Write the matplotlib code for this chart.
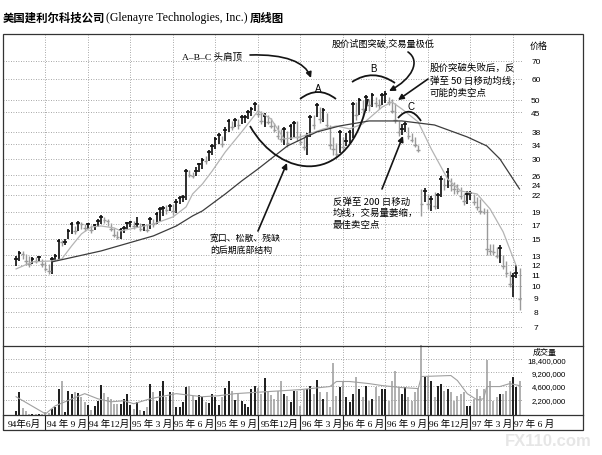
import numpy as np
import matplotlib
matplotlib.use('Agg')
import matplotlib.pyplot as plt
import matplotlib.transforms as mtransforms
from matplotlib.path import Path
from matplotlib.patches import PathPatch, FancyArrowPatch, Rectangle
from matplotlib.lines import Line2D
from matplotlib.ticker import NullLocator

plt.rcParams['font.family'] = ['Noto Sans CJK SC', 'DejaVu Sans']

# ---------------- data (weekly bars) ----------------
first_week = 4  # weeks after 1 June 1994

highs = [12.95, 13.52, 13.52, 13.18, 12.95, 12.84, 12.84, 12.95, 12.62, 12.30,
         12.09, 12.84, 13.18, 15.00, 14.87, 15.00, 16.36, 17.37, 16.78, 17.52,
         17.37, 17.07, 17.22, 16.93, 17.07, 17.83, 18.47, 18.15, 17.83, 17.22,
         16.49, 16.08, 16.49, 16.78, 17.37, 17.52, 17.52, 18.15, 17.22, 17.07,
         17.07, 18.15, 17.83, 18.95, 19.79, 19.96, 20.14, 20.31, 20.31, 21.21,
         21.76, 21.95, 27.49, 27.25, 26.78, 27.97, 28.96, 30.24, 30.77, 32.41,
         34.13, 36.27, 37.55, 36.58, 39.55, 42.38, 41.65, 42.75, 42.38, 43.87,
         43.87, 45.81, 47.00, 49.08, 48.23, 45.42, 44.64, 43.87, 42.75, 40.94,
         40.22, 38.87, 39.55, 38.20, 40.58, 41.65, 41.65, 37.55, 36.58, 37.55,
         43.87, 43.87, 48.65, 47.00, 46.61, 44.64, 40.22, 36.27, 34.43, 38.53,
         36.27, 37.55, 38.53, 49.08, 49.08, 50.81, 49.94, 52.15, 50.37, 53.06,
         51.25, 50.37, 53.06, 53.99, 51.25, 50.37, 48.65, 41.65, 40.58, 41.29,
         39.55, 37.55, 36.27, 33.84, 23.12, 23.32, 22.14, 21.76, 22.52, 22.33,
         25.87, 25.43, 27.73, 25.43, 24.56, 24.14, 23.52, 22.33, 22.72, 22.72,
         22.14, 21.57, 21.21, 19.62, 19.45, 14.37, 14.37, 14.00, 14.24, 13.06,
         12.40, 11.37, 11.18, 11.98, 11.67]

lows = [11.88, 12.40, 12.62, 11.98, 11.78, 12.09, 12.19, 12.30, 11.78, 11.37,
        11.08, 11.08, 12.40, 12.62, 14.12, 14.24, 15.00, 15.67, 15.67, 16.08,
        16.36, 16.08, 16.36, 15.80, 16.22, 16.64, 17.07, 17.22, 16.78, 16.08,
        15.27, 15.00, 15.00, 15.80, 16.36, 16.64, 16.36, 16.64, 16.08, 16.08,
        15.94, 16.36, 16.64, 17.07, 17.52, 18.31, 18.63, 19.12, 18.47, 18.79,
        20.31, 20.67, 21.03, 25.65, 25.43, 25.87, 26.78, 27.49, 28.71, 29.47,
        31.04, 32.69, 34.13, 33.26, 35.03, 37.87, 38.53, 39.55, 38.87, 40.58,
        40.94, 42.38, 43.49, 45.42, 43.12, 40.58, 39.55, 40.58, 39.21, 37.87,
        35.64, 34.73, 33.84, 33.26, 35.33, 36.27, 35.03, 33.84, 32.41, 31.04,
        36.27, 38.87, 43.12, 40.94, 41.29, 39.55, 32.69, 31.04, 30.24, 31.57,
        32.41, 33.55, 34.43, 35.95, 42.02, 43.87, 43.12, 45.42, 45.42, 47.00,
        47.00, 46.21, 47.82, 48.65, 47.82, 44.64, 40.94, 36.58, 36.90, 37.87,
        35.64, 34.73, 33.26, 31.85, 18.31, 20.67, 19.45, 19.12, 19.45, 19.45,
        21.57, 22.92, 23.32, 22.72, 22.14, 22.14, 21.21, 20.14, 20.31, 21.03,
        20.14, 19.28, 18.63, 18.63, 13.06, 13.06, 13.06, 12.73, 12.19, 11.57,
        10.80, 9.90, 9.07, 10.70, 8.11]

closes = [12.62, 13.29, 13.18, 12.40, 12.09, 12.62, 12.40, 12.84, 12.09, 11.57,
          11.37, 12.62, 12.95, 14.74, 14.61, 14.61, 16.08, 17.07, 16.08, 17.22,
          17.07, 16.49, 17.07, 16.22, 16.93, 17.52, 18.15, 17.68, 17.52, 16.36,
          15.53, 15.27, 16.22, 16.49, 17.22, 17.37, 16.78, 17.07, 16.36, 16.93,
          16.22, 17.83, 17.07, 18.63, 19.45, 19.62, 19.28, 19.96, 19.12, 20.67,
          21.40, 21.57, 27.02, 26.10, 25.87, 27.02, 28.71, 29.72, 29.47, 31.85,
          33.55, 35.64, 36.90, 34.13, 38.53, 41.65, 39.55, 42.02, 40.22, 43.12,
          43.12, 45.02, 46.21, 48.23, 44.25, 41.65, 43.49, 41.29, 39.89, 38.53,
          36.58, 35.64, 38.87, 34.43, 39.89, 40.94, 36.27, 34.73, 33.26, 36.58,
          43.12, 40.22, 47.82, 42.38, 45.81, 40.22, 33.84, 32.69, 31.30, 37.87,
          33.26, 35.03, 37.87, 48.23, 43.87, 49.94, 46.21, 51.25, 47.82, 52.15,
          48.65, 47.82, 52.15, 52.60, 49.08, 45.42, 42.02, 37.87, 38.87, 40.58,
          36.58, 35.33, 33.84, 32.41, 20.31, 22.72, 20.31, 21.21, 19.96, 21.95,
          25.21, 23.93, 26.78, 23.93, 23.12, 22.72, 21.76, 20.85, 22.14, 22.33,
          20.67, 19.79, 19.12, 18.95, 13.76, 13.52, 13.41, 12.95, 13.88, 11.88,
          11.18, 10.16, 10.89, 11.18, 8.92]

# weekly volume, millions of shares
volume = [1.22, 3.35, 1.43, 1.22, 1.04, 1.03, 1.02, 1.03, 1.05, 1.15,
          1.08, 1.35, 1.5, 3.93, 5.7, 1.15, 3.53, 3.01, 3.35, 3.17,
          2.56, 1.96, 1.67, 1.3, 1.59, 2.07, 4.86, 3.17, 2.56, 2.3,
          1.77, 1.77, 1.77, 2.3, 3.01, 1.67, 1.35, 1.96, 1.28, 1.22,
          1.51, 5.1, 3.35, 2.07, 3.53, 6.0, 2.56, 3.35, 3.35, 1.51,
          1.51, 1.96, 4.37, 4.6, 2.70, 2.18, 2.85, 2.56, 1.96, 1.86,
          3.01, 2.56, 1.67, 2.56, 4.14, 5.7, 3.53, 2.18, 3.01, 2.07,
          1.77, 1.51, 3.93, 4.6, 4.14, 3.01, 6.7, 3.35, 2.85, 2.3,
          3.53, 6.0, 3.01, 2.70, 1.96, 3.53, 3.53, 1.59, 3.6, 3.93,
          4.6, 3.01, 6.1, 3.35, 2.3, 3.35, 1.51, 14.9, 2.70, 4.37,
          6.0, 2.56, 1.96, 3.01, 7.4, 3.93, 2.56, 4.6, 2.07, 2.3,
          4.37, 2.70, 3.93, 3.93, 2.07, 6.0, 9.7, 4.37, 3.0, 4.37,
          2.56, 2.07, 3.35, 4.14, 38.0, 7.4, 7.1, 5.7, 2.56, 4.6,
          5.1, 3.53, 3.93, 3.35, 2.07, 2.70, 3.01, 3.35, 1.59, 1.59,
          2.3, 3.93, 2.70, 3.93, 17.4, 6.0, 2.07, 2.56, 3.01, 3.01,
          3.53, 6.0, 7.4, 4.37, 6.0]

# 50-day (light) and 200-day (dark) moving averages: bar index, value
ma50_bar = [0, 5, 11, 14, 17, 20, 23, 26, 30, 32, 35, 42, 48, 52, 54, 57, 60, 64, 69,
            74, 78, 82, 87, 94, 98, 102, 106, 112, 115, 118, 123, 127, 132, 136, 141,
            145, 149, 153]
ma50_val = [11.57, 12.30, 12.40, 12.62, 14.12, 15.67, 16.64, 16.78, 16.50, 16.08,
            16.36, 17.07, 18.15, 19.79, 22.14, 24.14, 27.02, 31.85, 37.87, 45.42,
            42.38, 35.64, 36.27, 38.87, 39.89, 38.87, 40.58, 47.00, 49.08, 46.21,
            41.29, 32.69, 25.21, 22.72, 22.14, 19.45, 15.94, 11.88]
ma200_bar = [11, 26, 42, 49, 54, 57, 64, 69, 74, 83, 92, 99, 108, 118, 128, 138, 144,
             148, 154]
ma200_val = [12.30, 13.52, 15.40, 16.78, 18.31, 19.12, 22.14, 24.77, 27.49, 33.55,
             37.87, 39.89, 41.65, 41.65, 40.22, 36.27, 33.55, 29.98, 23.12]
vol_ma_bar = [0, 9, 12, 21, 25, 29, 33, 36, 41, 49, 57, 62, 67, 77, 87, 96, 98, 102,
              108, 112, 118, 123, 124, 133, 135, 138, 141, 143, 144, 148, 151, 154]
vol_ma_val = [2.56, 1.04, 1.59, 3.01, 2.3, 1.96, 2.07, 1.77, 2.3, 3.01, 2.56, 2.70,
              3.01, 3.35, 3.72, 4.37, 5.7, 5.7, 5.1, 4.6, 4.14, 3.93, 7.4, 7.8, 6.0,
              3.01, 2.18, 2.3, 4.37, 4.37, 5.1, 4.6]

price_ticks = [7, 8, 9, 10, 11, 12, 13, 15, 17, 19, 22, 24, 26, 30, 34, 38, 45, 50, 60, 70]
vol_ticks = [2.2, 4.6, 9.2, 18.4]
month_labels = ['94年6月', '94 年 9 月', '94 年12月', '95 年 3 月', '95 年 6 月', '95 年 9 月',
                '95年12月', '96 年 3 月', '96 年 6 月', '96 年 9 月', '96 年12月',
                '97 年 3 月', '97 年 6 月']

# ---------------- figure ----------------
W, H = 602, 456
fig = plt.figure(figsize=(W / 100, H / 100), dpi=100)
px = mtransforms.Affine2D().scale(1 / W, -1 / H).translate(0, 1) + fig.transFigure


def fbox(x0, y0, x1, y1):
    return [x0 / W, 1 - y1 / H, (x1 - x0) / W, (y1 - y0) / H]


BLACK = '#141414'
GRAY = '#9a9a9a'
SERIF = ['Liberation Serif', 'Noto Sans CJK SC']
SANS = ['Liberation Sans', 'Noto Sans CJK SC']

x = np.arange(len(closes)) + first_week
prev = [closes[0]] + closes[:-1]
up = [c >= p for c, p in zip(closes, prev)]
cols = [BLACK if u else GRAY for u in up]
widths = [1.25 if u else 1.0 for u in up]
quarters = np.arange(len(month_labels)) * 13
xlim = (0.91, 158.76)

# price panel
ax = fig.add_axes(fbox(3, 35, 522, 346))
ax.set_yscale('log')
ax.set_ylim(5.99, 88.4)
ax.set_xlim(*xlim)
ax.vlines(x, lows, highs, colors=cols, linewidths=widths)
ax.hlines(closes, x - 0.55, x + 0.55, colors=cols, linewidths=widths)
ax.plot(np.array(ma50_bar) + first_week, ma50_val, color='#b4b4b4', lw=0.9)
ax.plot(np.array(ma200_bar) + first_week, ma200_val, color='#3c3c3c', lw=0.9)
ax.set_yticks(price_ticks, labels=[str(t) for t in price_ticks])
ax.yaxis.set_minor_locator(NullLocator())
ax.yaxis.tick_right()
ax.tick_params(axis='y', length=0, pad=10, labelsize=6)
for lab in ax.get_yticklabels():
    lab.set_horizontalalignment('center')
    lab.set_family(SANS)
ax.set_xticks(quarters)
ax.tick_params(axis='x', length=0, labelbottom=False)
ax.grid(True, ls=(0, (1, 2)), color='#8a8a8a', lw=0.6)
for s in ax.spines.values():
    s.set_visible(False)

# volume panel
axv = fig.add_axes(fbox(3, 346, 522, 416))
axv.set_yscale('log')
axv.set_ylim(0.98, 38.8)
axv.set_xlim(*xlim)
axv.vlines(x, 0.98, volume, colors=cols, linewidths=[w + 0.1 for w in widths])
axv.plot(np.array(vol_ma_bar) + first_week, vol_ma_val, color='#a0a0a0', lw=0.8)
axv.set_yticks(vol_ticks, labels=[f'{int(v * 1e6):,}' for v in vol_ticks])
axv.yaxis.set_minor_locator(NullLocator())
axv.yaxis.tick_right()
axv.tick_params(axis='y', length=0, pad=31.5, labelsize=5.6)
for lab in axv.get_yticklabels():
    lab.set_horizontalalignment('right')
    lab.set_family(SANS)
axv.set_xticks(quarters)
axv.tick_params(axis='x', direction='out', length=10.8, width=0.8, color='#222',
                labelbottom=False)
axv.grid(True, ls=(0, (1, 2)), color='#8a8a8a', lw=0.6)
for s in axv.spines.values():
    s.set_visible(False)
for q, lab in zip(quarters, month_labels):
    axv.text(q + 6.5, -8 / 70, lab, transform=axv.get_xaxis_transform(),
             ha='center', va='center', fontsize=6.8, family=SERIF)

# frame and dividers
fig.add_artist(Rectangle((3, 35), 580, 396, transform=px, fill=False, lw=0.9, ec='#333'))
for yy in (346.5, 416):
    fig.add_artist(Line2D([3, 583], [yy, yy], transform=px, lw=0.9, color='#333'))

fig.text(539 / W, 1 - 46 / H, '价格', ha='center', va='center', fontsize=6.5)
fig.text(545 / W, 1 - 352 / H, '成交量', ha='center', va='center', fontsize=5.8)

# title
fig.text(3 / W, 1 - 18 / H, '美国建利尔科技公司', ha='left', va='center',
         fontsize=8.2, fontweight='bold')
fig.text(106 / W, 1 - 18 / H, '(Glenayre Technologies, Inc.)', ha='left', va='center',
         fontsize=8.6, family=SERIF)
fig.text(250 / W, 1 - 18 / H, '周线图', ha='left', va='center', fontsize=8.2,
         fontweight='bold')

# annotations (pixel positions)
def curve(pts, codes):
    fig.add_artist(PathPatch(Path(pts, codes), transform=px, fill=False, lw=1.3, ec=BLACK))


Q = [Path.MOVETO, Path.CURVE3, Path.CURVE3]
C = [Path.MOVETO, Path.CURVE4, Path.CURVE4, Path.CURVE4]
curve([(300, 100), (318, 86), (336, 100)], Q)
curve([(352, 83), (373, 69), (395, 84)], Q)
curve([(398, 119), (410, 105), (421, 122)], Q)
curve([(250, 127), (280, 180), (350, 190), (368, 100)], C)


def arrow(pts, codes=None):
    if codes is None:
        codes = [Path.MOVETO, Path.LINETO]
    fig.add_artist(FancyArrowPatch(path=Path(pts, codes), transform=px,
                                   arrowstyle='-|>', mutation_scale=8, lw=1.2,
                                   color=BLACK, shrinkA=0, shrinkB=0))


arrow([(250, 56), (285, 55), (305, 63), (311, 79)], C)
arrow([(408, 53), (421, 62), (412, 80), (389, 92)], C)
arrow([(428, 80), (398, 101)])
arrow([(382, 190), (403, 137)])
arrow([(258, 232), (287, 164)])

fig.text(318 / W, 1 - 89 / H, 'A', ha='center', va='center', fontsize=7, family=SANS)
fig.text(373 / W, 1 - 69 / H, 'B', ha='center', va='center', fontsize=7, family=SANS)
fig.text(411 / W, 1 - 107 / H, 'C', ha='center', va='center', fontsize=7, family=SANS)

fig.text(182 / W, 1 - 57 / H, 'A–B–C 头肩顶', ha='left', va='center', fontsize=6.8,
         family=SERIF)
fig.text(332 / W, 1 - 43 / H, '股价试图突破,交易量极低', ha='left', va='center',
         fontsize=6.6)
fig.text(430 / W, 1 - 63 / H, '股价突破失败后，反\n弹至 50 日移动均线，\n可能的卖空点',
         ha='left', va='top', fontsize=6.8, linespacing=1.45)
fig.text(333 / W, 1 - 197 / H, '反弹至 200 日移动\n均线，交易量萎缩，\n最佳卖空点',
         ha='left', va='top', fontsize=6.8, linespacing=1.35)
fig.text(210 / W, 1 - 234 / H, '宽口、松散、残缺\n的后期底部结构', ha='left', va='top',
         fontsize=6.4, linespacing=1.4)

fig.text(548 / W, 1 - 442 / H, 'FX110.com', ha='center', va='center', fontsize=12,
         fontweight='bold', color='#e6e6e6', family=SANS)

fig.savefig('out.png', dpi=100)
